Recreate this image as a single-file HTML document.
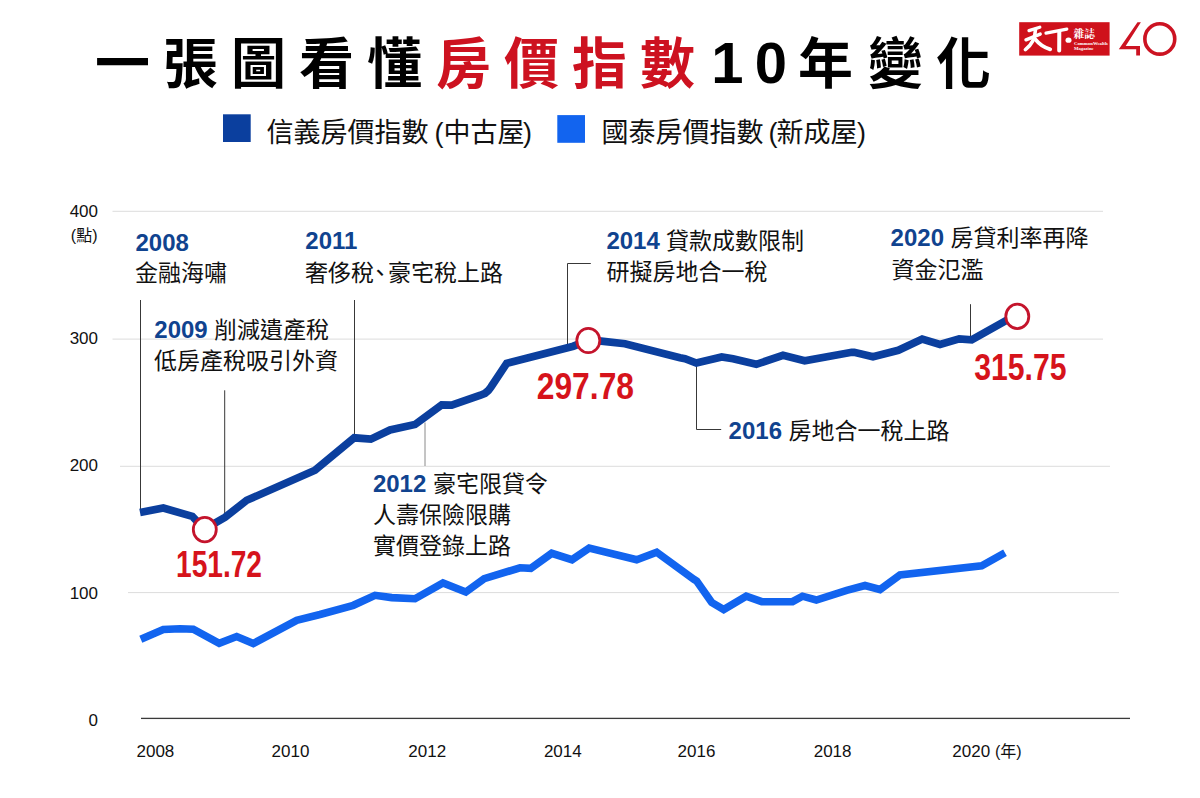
<!DOCTYPE html>
<html lang="zh-Hant">
<head>
<meta charset="utf-8">
<title>一張圖看懂房價指數10年變化</title>
<style>
html,body{margin:0;padding:0;background:#fff;}
body{width:1200px;height:798px;overflow:hidden;font-family:"Liberation Sans",sans-serif;}
svg{display:block;}
svg text{font-family:"Liberation Sans","Noto Sans CJK TC",sans-serif;}
.ttl{font-size:55px;font-weight:bold;}
.ttln{font-size:58px;font-weight:bold;text-anchor:middle;}
.lg{font-size:27px;fill:#111;}
.ax{font-size:17px;fill:#111;}
.yr{font-size:24px;font-weight:bold;fill:#10438f;}
.an{font-size:23px;fill:#111;}
.num{font-size:36px;font-weight:bold;fill:#d6131b;}
.sr-only{position:absolute;left:0;top:0;width:1px;height:1px;margin:-1px;padding:0;overflow:hidden;clip:rect(0 0 0 0);clip-path:inset(50%);white-space:nowrap;border:0;}
</style>
</head>
<body>
<svg width="1200" height="798" viewBox="0 0 1200 798">
<rect width="1200" height="798" fill="#fff"/>
<text class="ttl" fill="#000" x="95 163 231 299 367" y="83">一張圖看懂</text>
<text class="ttl" fill="#cd1220" x="436 504 572 640" y="83">房價指數</text>
<text class="ttln" fill="#000" x="727.5" y="82.7">1</text>
<text class="ttln" fill="#000" x="770.9" y="82.7">0</text>
<text class="ttl" fill="#000" x="798" y="83">年</text>
<text class="ttl" fill="#000" x="868 936" y="83">變化</text>
<rect x="223" y="114.3" width="27.7" height="27.7" fill="#0b3f9e"/>
<text class="lg" x="266.5" y="142">信義房價指數</text>
<text class="lg" x="434.5" y="142">(</text>
<text class="lg" x="443.5" y="142">中古屋</text>
<text class="lg" x="523" y="142">)</text>
<rect x="557.3" y="115.1" width="27.7" height="27.7" fill="#1264ef"/>
<text class="lg" x="601.5" y="142">國泰房價指數</text>
<text class="lg" x="768.5" y="142">(</text>
<text class="lg" x="776.5" y="142">新成屋</text>
<text class="lg" x="857" y="142">)</text>
<rect x="112.5" y="210.8" width="990.5" height="1" fill="#dcdcdc"/>
<rect x="112.5" y="338.6" width="990.5" height="1" fill="#dcdcdc"/>
<rect x="120" y="465.8" width="990" height="1" fill="#dcdcdc"/>
<rect x="128" y="592.1" width="991" height="1" fill="#dcdcdc"/>
<rect x="141" y="717.75" width="989" height="1.3" fill="#3a3a3a"/>
<text class="ax" text-anchor="end" x="98" y="216.6">400</text>
<text class="ax" text-anchor="end" x="98" y="343.8">300</text>
<text class="ax" text-anchor="end" x="98" y="470.8">200</text>
<text class="ax" text-anchor="end" x="98" y="598.8">100</text>
<text class="ax" text-anchor="end" x="98" y="725.5">0</text>
<text class="ax" style="font-size:16px" text-anchor="end" x="97.5" y="240.5">(點)</text>
<text class="ax" x="136.5" y="756.8">2008</text>
<text class="ax" x="271.6" y="756.8">2010</text>
<text class="ax" x="408.3" y="756.8">2012</text>
<text class="ax" x="543.9" y="756.8">2014</text>
<text class="ax" x="677.6" y="756.8">2016</text>
<text class="ax" x="813.7" y="756.8">2018</text>
<text class="ax" x="952.3" y="756.8">2020</text>
<text class="ax" style="font-size:16px" x="995" y="756.8">(年)</text>
<polyline fill="none" stroke="#383838" stroke-width="1" points="140.5,300 140.5,512"/>
<polyline fill="none" stroke="#383838" stroke-width="1" points="224.7,390.3 224.7,516"/>
<polyline fill="none" stroke="#383838" stroke-width="1" points="354.5,300 354.5,436"/>
<polyline fill="none" stroke="#8a8a8a" stroke-width="1" points="425,422.5 425,466"/>
<polyline fill="none" stroke="#383838" stroke-width="1" points="590.8,263.5 567.5,263.5 567.5,345"/>
<polyline fill="none" stroke="#383838" stroke-width="1" points="696.5,364 696.5,429.5 721.2,429.5"/>
<polyline fill="none" stroke="#383838" stroke-width="1" points="970.5,304.2 970.5,338"/>
<polyline fill="none" stroke="#1264ef" stroke-width="7.6" stroke-linejoin="miter" stroke-miterlimit="3" points="140.8,639.2 163.3,629.5 180,628.8 193.3,629.2 219.2,643.3 236.7,636.5 253.3,643.5 296.7,620.3 320,614.5 353.3,605.3 375,595.3 391.7,597.6 415,598.7 443,583 465.8,592 484.2,578.7 520,567.8 530.8,568.3 551.7,553.3 572,559.7 589.2,548 636.7,559.7 656.7,552.2 694.2,579.5 696.7,581 711.7,602.5 723.7,609.5 746.2,596.2 761.7,601.7 792.5,601.7 802.5,596.2 816.3,600 846.7,590.3 865,585.5 880,589.5 900,575 981.7,565.7 1005,552.8"/>
<polyline fill="none" stroke="#0b3f9e" stroke-width="7.7" stroke-linejoin="miter" stroke-miterlimit="3" points="140,512.5 163.3,508 192.3,516.4 204.5,529.2 225,517.3 246.7,500.3 315,470.3 354.2,437.8 370.8,439.2 390,430 415,424.5 441.7,405 451.7,405.2 480.5,395.2 485,393.3 488.3,390.6 491,387 506.7,363.3 573.3,346.2 588.3,340.5 601.3,341.2 625,343.7 680,357.8 685,358.7 696.3,363 721.7,357 733,358.8 756.3,364.3 783,355.3 804.7,360.7 851.7,352.3 854.2,352.3 873,356.8 898.3,350.3 922.2,339 940,344.5 959.2,338.8 971.7,339.8 1017.2,314.4"/>
<ellipse cx="204.8" cy="529.6" rx="11.5" ry="12.2" fill="#fff" stroke="#c4142c" stroke-width="2.8"/>
<ellipse cx="588.3" cy="340.5" rx="11.5" ry="12.2" fill="#fff" stroke="#c4142c" stroke-width="2.8"/>
<ellipse cx="1017.3" cy="316.4" rx="11.5" ry="12.2" fill="#fff" stroke="#c4142c" stroke-width="2.8"/>
<text class="yr" x="135.5" y="251.2">2008</text>
<text class="an" x="135" y="281">金融海嘯</text>
<text class="yr" x="154.3" y="337.7">2009</text>
<text class="an" x="214" y="337.8">削減遺產稅</text>
<text class="an" x="154" y="369">低房產稅吸引外資</text>
<text class="yr" x="305.3" y="249">2011</text>
<text class="an" x="305" y="280.5">奢侈稅</text>
<text class="an" x="368.5" y="280.5">、</text>
<text class="an" x="388" y="280.5">豪宅稅上路</text>
<text class="yr" x="372.9" y="492.2">2012</text>
<text class="an" x="433" y="492.3">豪宅限貸令</text>
<text class="an" x="373" y="523">人壽保險限購</text>
<text class="an" x="373" y="554">實價登錄上路</text>
<text class="yr" x="606.4" y="248.5">2014</text>
<text class="an" x="666" y="248.7">貸款成數限制</text>
<text class="an" x="606.5" y="279.5">研擬房地合一稅</text>
<text class="yr" x="728.6" y="438.8">2016</text>
<text class="an" x="788.5" y="439">房地合一稅上路</text>
<text class="yr" x="890.6" y="246.1">2020</text>
<text class="an" x="950.5" y="246.3">房貸利率再降</text>
<text class="an" x="891.5" y="278">資金氾濫</text>
<text class="num" x="536.75" y="398.6" textLength="97.25" lengthAdjust="spacingAndGlyphs">297.78</text>
<text class="num" x="974.2" y="379.6" textLength="92.3" lengthAdjust="spacingAndGlyphs">315.75</text>
<text class="num" x="176" y="576.6" textLength="86" lengthAdjust="spacingAndGlyphs">151.72</text>
<rect x="1019.2" y="22.2" width="90.4" height="33.4" fill="#cf111b"/>
<g role="img" aria-label="天下" fill="none" stroke="#fff" stroke-linecap="round" stroke-linejoin="round"><title>天下</title><path stroke-width="3.3" d="M1029 30.6L1039.8 27.2"/><path stroke-width="3.4" d="M1026 39.8L1040.2 34.1"/><path stroke-width="3.6" d="M1035.5 29.2Q1035.2 42 1025.4 49.7"/><path stroke-width="3.9" d="M1035.6 39.6Q1041 46.5 1050.2 49.3"/><path stroke-width="3.2" d="M1046 33.1L1066.8 29.1"/><path stroke-width="4.0" d="M1059.3 31.6L1059.2 50.6"/><ellipse cx="1068.5" cy="40.2" rx="3.0" ry="2.6" fill="#fff" stroke="none"/></g>
<text x="1073.5" y="38.2" fill="#fff" style="font-family:'Liberation Serif','Noto Serif CJK SC',serif;font-size:10.8px;font-weight:bold;">雜誌</text>
<text x="1074" y="45.1" fill="#fff" textLength="33.6" lengthAdjust="spacingAndGlyphs" style="font-family:'Liberation Serif',serif;font-size:4.8px;font-weight:bold;">CommonWealth</text>
<text x="1073.9" y="50.4" fill="#fff" textLength="19.8" lengthAdjust="spacingAndGlyphs" style="font-family:'Liberation Serif',serif;font-size:4.8px;font-weight:bold;">Magazine</text>
<path role="img" aria-label="4" fill="#cc1322" d="M1137.5 22.2L1140.9 22.2L1125.7 45.9L1140 45.9L1140 55.6L1136.2 55.6L1136.2 49.3L1118.8 49.3Z"/>
<ellipse role="img" aria-label="0" cx="1159.8" cy="38.9" rx="14.95" ry="15.2" fill="none" stroke="#cc1322" stroke-width="3.6"/>
</svg>
<div class="sr-only">
<h1>一張圖看懂房價指數10年變化</h1>
<p>天下雜誌 CommonWealth Magazine 40</p>
<p>圖例：信義房價指數（中古屋）、國泰房價指數（新成屋）。縱軸：0、100、200、300、400（點）；橫軸：2008、2010、2012、2014、2016、2018、2020（年）。</p>
<ul>
<li>2008 金融海嘯</li>
<li>2009 削減遺產稅，低房產稅吸引外資（151.72）</li>
<li>2011 奢侈稅、豪宅稅上路</li>
<li>2012 豪宅限貸令，人壽保險限購，實價登錄上路</li>
<li>2014 貸款成數限制，研擬房地合一稅（297.78）</li>
<li>2016 房地合一稅上路</li>
<li>2020 房貸利率再降，資金氾濫（315.75）</li>
</ul>
</div>
</body>
</html>
